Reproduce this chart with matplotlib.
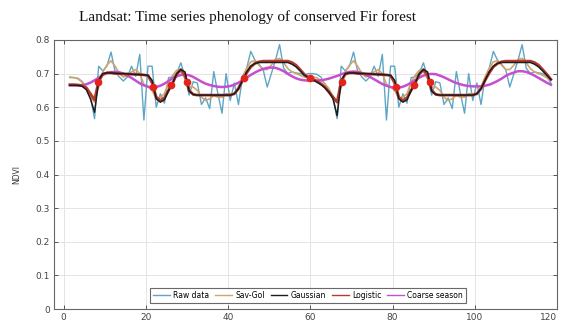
import numpy as np
import matplotlib
matplotlib.use("Agg")
import matplotlib.pyplot as plt

# sample positions (composite index)
t = np.arange(118) + 1.5

raw_ndvi = [
  0.688, 0.688, 0.686, 0.676, 0.655, 0.630, 0.566, 0.722, 0.708, 0.722,
  0.764, 0.706, 0.690, 0.678, 0.690, 0.722, 0.692, 0.757, 0.562, 0.722,
  0.722, 0.600, 0.640, 0.612, 0.688, 0.690, 0.702, 0.732, 0.690, 0.636,
  0.676, 0.672, 0.608, 0.628, 0.596, 0.706, 0.640, 0.582, 0.700, 0.620,
  0.672, 0.608, 0.690, 0.716, 0.766, 0.740, 0.728, 0.712, 0.660, 0.700,
  0.740, 0.786, 0.716, 0.700, 0.705, 0.702, 0.700, 0.696, 0.700,
  0.700, 0.698, 0.690, 0.668, 0.652, 0.630, 0.566, 0.722, 0.708, 0.722,
  0.764, 0.706, 0.690, 0.678, 0.690, 0.722, 0.692, 0.757, 0.562, 0.722,
  0.722, 0.600, 0.640, 0.612, 0.688, 0.690, 0.702, 0.732, 0.690, 0.636,
  0.676, 0.672, 0.608, 0.628, 0.596, 0.706, 0.640, 0.582, 0.700, 0.620,
  0.672, 0.608, 0.690, 0.716, 0.766, 0.740, 0.728, 0.712, 0.660, 0.700,
  0.740, 0.786, 0.716, 0.700, 0.705, 0.702, 0.700, 0.690, 0.672,
]

savgol_ndvi = [
  0.690, 0.688, 0.684, 0.674, 0.655, 0.630, 0.615, 0.660, 0.705, 0.725,
  0.738, 0.722, 0.700, 0.690, 0.694, 0.705, 0.712, 0.700, 0.668, 0.660,
  0.650, 0.625, 0.630, 0.640, 0.675, 0.695, 0.710, 0.705, 0.685, 0.660,
  0.660, 0.650, 0.630, 0.620, 0.625, 0.635, 0.630, 0.630, 0.640, 0.640,
  0.640, 0.660, 0.690, 0.715, 0.735, 0.738, 0.725, 0.712, 0.712, 0.725,
  0.742, 0.745, 0.732, 0.715, 0.705, 0.700, 0.695, 0.690, 0.688,
  0.690, 0.688, 0.680, 0.670, 0.655, 0.632, 0.615, 0.660, 0.705, 0.725,
  0.738, 0.722, 0.700, 0.690, 0.694, 0.705, 0.712, 0.700, 0.668, 0.660,
  0.650, 0.625, 0.630, 0.640, 0.675, 0.695, 0.710, 0.705, 0.685, 0.660,
  0.660, 0.650, 0.630, 0.620, 0.625, 0.635, 0.630, 0.630, 0.640, 0.640,
  0.640, 0.660, 0.690, 0.715, 0.735, 0.738, 0.725, 0.712, 0.712, 0.725,
  0.742, 0.745, 0.732, 0.715, 0.705, 0.700, 0.695, 0.688, 0.680,
]

gauss_ndvi = [
  0.665, 0.665, 0.665, 0.662, 0.652, 0.625, 0.585, 0.680, 0.700, 0.702,
  0.702, 0.701, 0.700, 0.700, 0.699, 0.698, 0.697, 0.697, 0.696, 0.695,
  0.680, 0.625, 0.615, 0.622, 0.650, 0.672, 0.700, 0.712, 0.705, 0.648,
  0.638, 0.636, 0.636, 0.636, 0.636, 0.636, 0.636, 0.636, 0.636, 0.636,
  0.640, 0.655, 0.680, 0.705, 0.722, 0.730, 0.733, 0.733, 0.733, 0.733,
  0.733, 0.733, 0.733, 0.733, 0.728, 0.720, 0.708, 0.695, 0.688,
  0.682, 0.675, 0.668, 0.658, 0.645, 0.625, 0.575, 0.680, 0.700, 0.702,
  0.702, 0.701, 0.700, 0.700, 0.699, 0.698, 0.697, 0.697, 0.696, 0.695,
  0.680, 0.625, 0.615, 0.622, 0.650, 0.672, 0.700, 0.712, 0.705, 0.648,
  0.638, 0.636, 0.636, 0.636, 0.636, 0.636, 0.636, 0.636, 0.636, 0.636,
  0.640, 0.655, 0.680, 0.705, 0.722, 0.730, 0.733, 0.733, 0.733, 0.733,
  0.733, 0.733, 0.733, 0.733, 0.728, 0.720, 0.708, 0.695, 0.682,
]

logistic_ndvi = [
  0.667, 0.667, 0.666, 0.664, 0.658, 0.640, 0.622, 0.678, 0.698, 0.702,
  0.702, 0.700, 0.700, 0.699, 0.699, 0.698, 0.698, 0.697, 0.696, 0.694,
  0.672, 0.630, 0.620, 0.628, 0.650, 0.672, 0.698, 0.712, 0.695, 0.650,
  0.638, 0.636, 0.636, 0.636, 0.636, 0.636, 0.636, 0.636, 0.636, 0.636,
  0.640, 0.655, 0.680, 0.702, 0.720, 0.730, 0.735, 0.737, 0.737, 0.737,
  0.737, 0.737, 0.737, 0.737, 0.733, 0.725, 0.712, 0.698, 0.688,
  0.684, 0.678, 0.670, 0.660, 0.645, 0.630, 0.615, 0.678, 0.698, 0.702,
  0.702, 0.700, 0.700, 0.699, 0.699, 0.698, 0.698, 0.697, 0.696, 0.694,
  0.672, 0.630, 0.620, 0.628, 0.650, 0.672, 0.698, 0.712, 0.695, 0.650,
  0.638, 0.636, 0.636, 0.636, 0.636, 0.636, 0.636, 0.636, 0.636, 0.636,
  0.640, 0.655, 0.680, 0.702, 0.720, 0.730, 0.735, 0.737, 0.737, 0.737,
  0.737, 0.737, 0.737, 0.737, 0.733, 0.725, 0.712, 0.698, 0.683,
]

coarse_ndvi = [
  0.665, 0.665, 0.665, 0.666, 0.668, 0.673, 0.680, 0.688, 0.696, 0.702,
  0.704, 0.705, 0.704, 0.700, 0.694, 0.687, 0.679, 0.671, 0.665, 0.661,
  0.659, 0.660, 0.664, 0.670, 0.678, 0.686, 0.692, 0.696, 0.697, 0.695,
  0.690, 0.683, 0.676, 0.670, 0.666, 0.663, 0.661, 0.660, 0.661, 0.663,
  0.667, 0.673, 0.680, 0.688, 0.696, 0.703, 0.709, 0.714, 0.717, 0.718,
  0.717, 0.713, 0.707, 0.699, 0.692, 0.686, 0.682, 0.680, 0.679,
  0.679, 0.679, 0.680, 0.682, 0.685, 0.689, 0.693, 0.698, 0.702, 0.705,
  0.706, 0.705, 0.702, 0.697, 0.690, 0.683, 0.676, 0.669, 0.664, 0.660,
  0.658, 0.658, 0.661, 0.666, 0.673, 0.681, 0.688, 0.694, 0.698, 0.699,
  0.698, 0.694, 0.689, 0.683, 0.677, 0.672, 0.668, 0.665, 0.663, 0.662,
  0.662, 0.662, 0.664, 0.667, 0.672, 0.678, 0.685, 0.693, 0.699, 0.703,
  0.707, 0.707, 0.705, 0.700, 0.694, 0.687, 0.680, 0.673, 0.667,
]

# season start/end points on the logistic fit
pheno_t = [8.4, 21.8, 26.2, 29.9, 43.9, 59.9, 67.6, 80.8, 85.2, 89.1]
pheno_ndvi = [0.676, 0.660, 0.667, 0.676, 0.687, 0.687, 0.676, 0.660, 0.667, 0.676]

fig = plt.figure(figsize=(5.61, 3.22), dpi=100)
ax = fig.add_axes([0.096, 0.040, 0.897, 0.836])

ax.plot(t, raw_ndvi, color='#5ea6c6', lw=1.0, label='Raw data')
ax.plot(t, savgol_ndvi, color='#cfa66c', lw=1.2, label='Sav-Gol')
ax.plot(t, logistic_ndvi, color='#b8392e', lw=2.0, label='Logistic', zorder=3)
ax.plot(t, gauss_ndvi, color='#1c1c1c', lw=1.1, label='Gaussian', zorder=4)
ax.plot(t, coarse_ndvi, color='#c54fd0', lw=1.8, label='Coarse season', zorder=2)
ax.plot(pheno_t, pheno_ndvi, 'o', color='#e3241b', ms=4.5, zorder=5)

ax.set_xlim(-2.4, 120)
ax.set_ylim(0, 0.8)
ax.set_xticks(np.arange(0, 121, 20))
ax.set_yticks(np.arange(0, 0.81, 0.1))
ax.set_yticklabels(['0', '0.1', '0.2', '0.3', '0.4', '0.5', '0.6', '0.7', '0.8'])
ax.grid(True, color='#e4e4e4', lw=0.7)
ax.set_axisbelow(True)
ax.tick_params(direction='in', top=True, right=True, length=3, width=0.7,
               labelsize=6.5, labelcolor='#444444', color='#555555', pad=3)
for s in ax.spines.values():
  s.set_color('#666666')
  s.set_linewidth(0.8)
# last x label sits flush with the right edge
ax.get_xticklabels()[-1].set_horizontalalignment('right')

ax.set_ylabel('NDVI', fontsize=5.5, color='#333333', labelpad=10)

handles, labels = ax.get_legend_handles_labels()
order = [0, 1, 3, 2, 4]
leg = ax.legend([handles[i] for i in order], [labels[i] for i in order],
                loc='center', bbox_to_anchor=(0.505, 0.05), ncol=5, fontsize=5.5,
                frameon=True, fancybox=False, handlelength=2.2, handletextpad=0.4,
                columnspacing=0.8, borderpad=0.35)
leg.get_frame().set_edgecolor('#444444')
leg.get_frame().set_linewidth(0.8)
for line in leg.get_lines():
  line.set_linewidth(1.0)

fig.text(0.442, 0.947, 'Landsat: Time series phenology of conserved Fir forest',
         family='Liberation Serif', fontsize=11, ha='center', va='center', color='#111111')

plt.savefig('out.png', dpi=100)
